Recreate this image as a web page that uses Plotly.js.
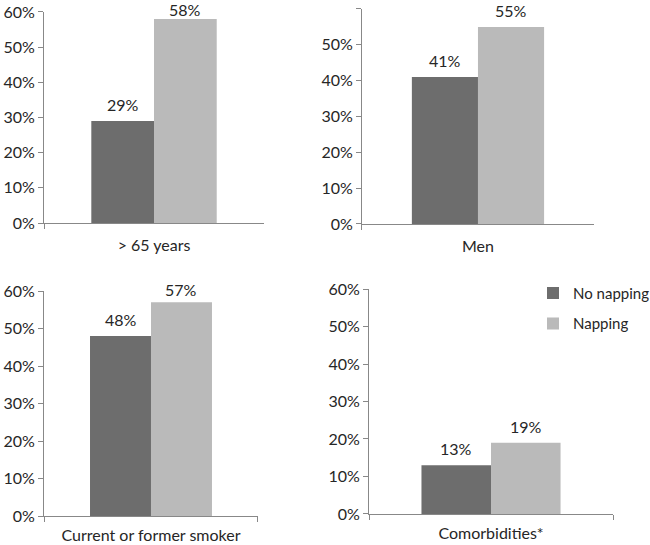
<!DOCTYPE html>
<html>
<head>
<meta charset="utf-8">
<script src="https://cdn.plot.ly/plotly-3.0.1.min.js"></script>
<style>html,body{margin:0;padding:0;background:#fff;}#chart{width:650px;height:545px;}</style>
</head>
<body>
<div id="chart"></div>
<script>
const categories = ['> 65 years', 'Men', 'Current or former smoker', 'Comorbidities*'];
const seriesNames = ['No napping', 'Napping'];
const noNapping = [0.29, 0.41, 0.48, 0.13];
const napping = [0.58, 0.55, 0.57, 0.19];
const yTickVals = [0, 0.1, 0.2, 0.3, 0.4, 0.5, 0.6];

const colors = ['#6d6d6d', '#bababa'];
const textColor = '#262626';
const axisColor = '#888888';
const fontFamily = 'Lato, "Open Sans", sans-serif';
const fs = 16;

// panel domains (paper fractions)
const xDomains = [[0.0677, 0.4062], [0.5569, 0.9138], [0.0677, 0.3969], [0.5677, 0.9431]];
const yDomains = [[0.5908, 0.978], [0.589, 0.9835], [0.0532, 0.466], [0.0569, 0.4697]];
const labelStandoff = [8, 8, 5, 5];

const seriesValues = [noNapping, napping];
const traces = [];
const annotations = [];
const layout = {
  width: 650, height: 545,
  margin: {l: 0, r: 0, t: 0, b: 0, autoexpand: false},
  paper_bgcolor: '#ffffff', plot_bgcolor: '#ffffff',
  font: {family: fontFamily, size: fs, color: textColor},
  barmode: 'group', bargap: 0.43, bargroupgap: 0,
  showlegend: true,
  legend: {x: 0.82, y: 0.492, xanchor: 'left', yanchor: 'top', traceorder: 'grouped', tracegroupgap: 8,
           font: {family: fontFamily, size: 15, color: textColor}, bgcolor: 'rgba(0,0,0,0)'},
  annotations: annotations
};

categories.forEach((cat, i) => {
  const s = i === 0 ? '' : String(i + 1);
  seriesValues.forEach((vals, k) => {
    traces.push({
      type: 'bar', x: [cat], y: [vals[i]], name: seriesNames[k],
      xaxis: 'x' + s, yaxis: 'y' + s,
      marker: {color: colors[k], line: {width: 0}},
      showlegend: i === 0, legendgroup: 'g' + k,
      offsetgroup: String(k), hoverinfo: 'skip'
    });
    annotations.push({
      xref: 'x' + s, yref: 'y' + s, x: cat, y: Math.min(vals[i], 0.56),
      text: Math.round(vals[i] * 100) + '%',
      showarrow: false, yanchor: 'bottom', yshift: 5,
      font: {family: fontFamily, size: fs, color: textColor}
    });
  });
  layout['xaxis' + s] = {
    domain: xDomains[i], anchor: 'y' + s, type: 'category', range: [-0.5, 0.5],
    showline: true, linecolor: axisColor, linewidth: 1, ticks: 'outside', tickson: 'boundaries',
    ticklen: 5, tickcolor: axisColor, showgrid: false, zeroline: false, fixedrange: true,
    ticklabelstandoff: labelStandoff[i], automargin: false,
    tickfont: {family: fontFamily, size: fs, color: textColor}
  };
  layout['yaxis' + s] = {
    domain: yDomains[i], anchor: 'x' + s, range: [0, 0.6], tickvals: yTickVals, tickformat: '.0%',
    showline: true, linecolor: axisColor, linewidth: 1, ticks: 'outside', ticklen: 5, tickcolor: axisColor,
    showgrid: false, zeroline: false, fixedrange: true, automargin: false,
    tickfont: {family: fontFamily, size: fs, color: textColor}
  };
});

// position the value labels over each bar of the group
Plotly.newPlot('chart', traces, layout, {displayModeBar: false, staticPlot: true}).then(gd => {
  const anns = gd.layout.annotations.map((a, idx) => {
    const i = Math.floor(idx / 2), k = idx % 2;
    const s = i === 0 ? '' : String(i + 1);
    const xa = gd._fullLayout['xaxis' + s];
    const groupWidth = 1 - gd._fullLayout.bargap;
    const barCenter = (k === 0 ? -0.25 : 0.25) * groupWidth;
    return Object.assign({}, a, {xshift: barCenter * xa._length});
  });
  Plotly.relayout(gd, {annotations: anns});
});
</script>
</body>
</html>
